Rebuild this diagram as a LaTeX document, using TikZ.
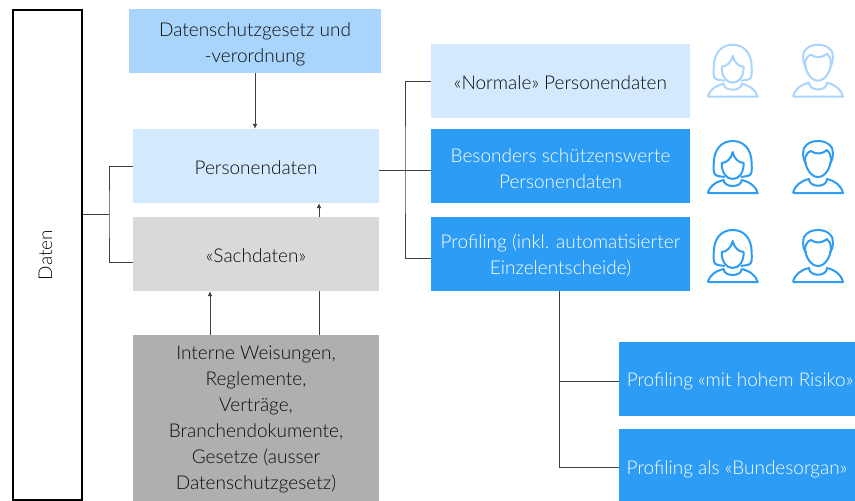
\documentclass[tikz,border=0pt]{standalone}
\usepackage{fontspec}
\setmainfont{Lato Light}
\usetikzlibrary{arrows.meta}
\definecolor{palebox}{HTML}{D3E9FD}
\definecolor{midbox}{HTML}{A9D5FC}
\definecolor{strongbox}{HTML}{2D9CF5}
\definecolor{greybox}{HTML}{D9D9D9}
\definecolor{darkbox}{HTML}{AFAFAF}
\tikzset{every node/.style={font=\fontsize{19}{26}\selectfont, text=black!95, align=center, inner sep=0pt,
    execute at begin node={\rule{0pt}{18pt}}},
  lowered/.style={execute at begin node={\rule{0pt}{#1}}},
  box/.style={minimum width=246pt, minimum height=74pt},
  bluebox/.style={minimum width=259pt, minimum height=74pt, fill=strongbox, text=white},
  smallbox/.style={minimum width=236pt, fill=strongbox, text=white},
  link/.style={line width=1pt, black!75},
  tip/.style={-{Latex[length=5pt,width=5pt]}},
  pics/woman/.style={code={
    \draw[line width=2pt, line join=round] (-25,-1) -- (25,-1) .. controls (23,-8) and (17,-12) .. (9,-14) .. controls (9,-6) and (-9,-6) .. (-9,-14) .. controls (-17,-12) and (-23,-8) .. (-25,-1);
    \draw[line width=2pt, line join=round] (-8,-17) -- (-15,-18) .. controls (-20,-19) and (-19,-24) .. (-19,-30) .. controls (-19,-45) and (-11,-53) .. (0,-53) .. controls (11,-53) and (19,-45) .. (19,-30) .. controls (19,-24) and (20,-19) .. (15,-18) -- (8,-17);
    \draw[line width=2pt, line join=round] (-11,-31) .. controls (-6,-31) and (-1,-36) .. (0,-42) .. controls (1,-36) and (6,-31) .. (11,-31) .. controls (11,-22) and (7,-15) .. (0,-15) .. controls (-7,-15) and (-11,-22) .. (-11,-31) -- cycle;
  }},
  pics/man/.style={code={
    \draw[line width=2pt, line join=round] (-25,-1) -- (25,-1) .. controls (23,-9) and (17,-13) .. (9,-15) .. controls (9,-6) and (-9,-6) .. (-9,-15) .. controls (-17,-13) and (-23,-9) .. (-25,-1);
    \draw[line width=2pt, line join=round] (-12,-30) .. controls (-16,-36) and (-15,-43) .. (-14,-46) .. controls (-11,-51) and (-6,-53) .. (0,-53) .. controls (6,-53) and (11,-51) .. (14,-46) .. controls (15,-43) and (16,-36) .. (12,-30);
    \draw[line width=2pt, line join=round] (-13,-36) .. controls (-11,-41) and (-9,-43) .. (-7,-43) .. controls (-3,-40) and (3,-39) .. (9,-44) .. controls (11,-42) and (13,-39) .. (13,-36) .. controls (13,-26) and (7,-17) .. (0,-17) .. controls (-7,-17) and (-13,-26) .. (-13,-36) -- cycle;
  }}}
\begin{document}
\begin{tikzpicture}[x=1pt, y=-1pt]
  \useasboundingbox (0,0) rectangle (855,501);
  \node[rotate=90, draw=black, line width=2pt, minimum width=490pt, minimum height=69pt, execute at begin node={\rule[-9pt]{0pt}{1pt}}] (daten) at (47.5,255) {Daten};
  \node[fill=midbox, minimum width=252pt, minimum height=64pt, lowered=46pt] (gesetz) at (255,41) {Datenschutzgesetz und\\-verordnung};
  \node[box, fill=palebox] (personen) at (256,166) {Personendaten};
  \node[box, fill=greybox] (sach) at (256,254) {«Sachdaten»};
  \node[box, fill=darkbox, minimum height=166pt, lowered=146pt] (interne) at (256,418) {Interne Weisungen,\\Reglemente,\\Verträge,\\Branchendokumente,\\Gesetze (ausser\\Datenschutzgesetz)};
  \node[bluebox, fill=palebox, text=black!95] (normal) at (560.5,81) {«Normale» Personendaten};
  \node[bluebox, lowered=46pt] (besonders) at (560.5,166) {Besonders schützenswerte\\Personendaten};
  \node[bluebox, lowered=44pt] (profil) at (560.5,254) {Profiling (inkl. automatisierter\\Einzelentscheide)};
  \node[smallbox, minimum height=74pt] (risiko) at (737,379) {\hspace*{6pt}Profiling «mit hohem Risiko»};
  \node[smallbox, minimum height=72pt, lowered=22pt] (organ) at (737,465) {Profiling als «Bundesorgan»};

  \coordinate (datenfork) at (109,214);
  \coordinate (sachfork) at (133,262);
  \coordinate (persfork) at (379,170);
  \coordinate (normalfork) at (405,170);
  \coordinate (profilfork) at (431,258);
  \coordinate (sachup) at (319,217);
  \coordinate (interneleft) at (210,335);
  \coordinate (interneright) at (319,335);
  \coordinate (profildown) at (559,291);
  \coordinate (risikofork) at (619,381);
  \coordinate (organfork) at (619,467);

  \draw[link] (daten.south |- datenfork) -- (datenfork);
  \draw[link] (personen.west) -| (datenfork) |- (sachfork);
  \draw[link] (persfork) -- (persfork -| besonders.west);
  \draw[link] (normal.west) -| (normalfork) |- (profilfork);
  \draw[link, tip] (gesetz.south) -- (personen.north -| gesetz.south);
  \draw[link, tip] (sachup) -- (sachup |- personen.south);
  \draw[link, tip] (interneleft) -- (interneleft |- sach.south);
  \draw[link] (interneright) -- (interneright |- sach.south);
  \draw[link] (profildown) |- (organfork);
  \draw[link] (risikofork) -- (risikofork -| profildown);

  \foreach\name/\ybase/\shade in {a/97.7/midbox, b/194/strongbox, c/283/strongbox} {
    \pic[color=\shade] (woman\name) at (732.7,\ybase) {woman};
    \pic[color=\shade] (man\name) at (818,\ybase) {man};
  }
\end{tikzpicture}
\end{document}
